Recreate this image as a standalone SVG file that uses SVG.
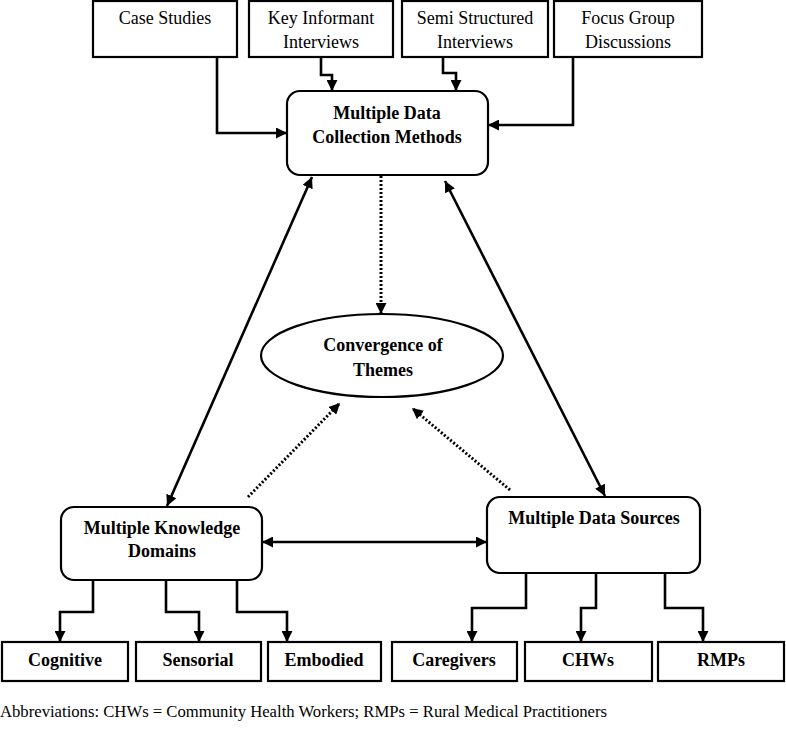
<svg xmlns="http://www.w3.org/2000/svg" width="786" height="747" viewBox="0 0 786 747">
<style>
.box{fill:#fff;stroke:#000;stroke-width:2.2}
.t{font-family:"Liberation Serif","Times New Roman",serif;font-size:18px;fill:#000;text-anchor:middle}
.b{font-weight:bold}
.ln{fill:none;stroke:#000;stroke-width:2.6}
.dot{fill:none;stroke:#000;stroke-width:3;stroke-dasharray:2 2}
</style>
<defs>
<marker id="ah" viewBox="0 0 10 10" refX="10" refY="5" markerWidth="11" markerHeight="11" markerUnits="userSpaceOnUse" orient="auto-start-reverse">
<path d="M0,0 L10,5 L0,10 z" fill="#000"/>
</marker>
</defs>
<rect width="786" height="747" fill="#fff"/>
<g id="connectors">
<polyline class="ln" points="217,57 217,133 287,133" marker-end="url(#ah)"/>
<polyline class="ln" points="321,57 321,75 332,75 332,91" marker-end="url(#ah)"/>
<polyline class="ln" points="443,57 443,73 456,73 456,91" marker-end="url(#ah)"/>
<polyline class="ln" points="573,57 573,125 488,125" marker-end="url(#ah)"/>
<line class="dot" x1="381" y1="176" x2="381" y2="314" marker-end="url(#ah)"/>
<line class="ln" x1="312" y1="177" x2="167" y2="506" marker-start="url(#ah)" marker-end="url(#ah)"/>
<line class="ln" x1="445" y1="181" x2="605" y2="496" marker-start="url(#ah)" marker-end="url(#ah)"/>
<line class="ln" x1="262" y1="542" x2="487" y2="542" marker-start="url(#ah)" marker-end="url(#ah)"/>
<line class="dot" x1="248" y1="497" x2="340" y2="403" marker-end="url(#ah)"/>
<line class="dot" x1="510" y1="490" x2="412" y2="408" marker-end="url(#ah)"/>
<polyline class="ln" points="93,580 93,612 60,612 60,642" marker-end="url(#ah)"/>
<polyline class="ln" points="166,580 166,612 199,612 199,642" marker-end="url(#ah)"/>
<polyline class="ln" points="237,580 237,612 287,612 287,642" marker-end="url(#ah)"/>
<polyline class="ln" points="526,573 526,608 472,608 472,642" marker-end="url(#ah)"/>
<polyline class="ln" points="596,573 596,608 581,608 581,642" marker-end="url(#ah)"/>
<polyline class="ln" points="665,573 665,608 703,608 703,642" marker-end="url(#ah)"/>
</g>
<g id="case-studies"><rect class="box" x="93" y="1" width="144" height="56"/><text class="t" x="165" y="24">Case Studies</text></g>
<g id="key-informant"><rect class="box" x="249" y="1" width="144" height="56"/><text class="t" x="321" y="24">Key Informant</text><text class="t" x="321" y="48">Interviews</text></g>
<g id="semi-structured"><rect class="box" x="402" y="1" width="146" height="56"/><text class="t" x="475" y="24">Semi Structured</text><text class="t" x="475" y="48">Interviews</text></g>
<g id="focus-group"><rect class="box" x="554" y="1" width="148" height="56"/><text class="t" x="628" y="24">Focus Group</text><text class="t" x="628" y="48">Discussions</text></g>
<g id="methods"><rect class="box" x="287" y="91" width="201" height="84" rx="13"/><text class="t b" x="387" y="119">Multiple Data</text><text class="t b" x="387" y="143">Collection Methods</text></g>
<g id="convergence"><ellipse class="box" cx="382" cy="355.5" rx="121" ry="41.5"/><text class="t b" x="383" y="351">Convergence of</text><text class="t b" x="383" y="376">Themes</text></g>
<g id="knowledge"><rect class="box" x="61" y="507" width="201" height="73" rx="13"/><text class="t b" x="162" y="534">Multiple Knowledge</text><text class="t b" x="162" y="557">Domains</text></g>
<g id="sources"><rect class="box" x="487" y="497" width="213" height="76" rx="13"/><text class="t b" x="594" y="524">Multiple Data Sources</text></g>
<g id="cognitive"><rect class="box" x="2" y="642" width="126" height="39"/><text class="t b" x="65" y="666">Cognitive</text></g>
<g id="sensorial"><rect class="box" x="136" y="642" width="125" height="39"/><text class="t b" x="198" y="666">Sensorial</text></g>
<g id="embodied"><rect class="box" x="268" y="642" width="113" height="39"/><text class="t b" x="324" y="666">Embodied</text></g>
<g id="caregivers"><rect class="box" x="392" y="642" width="125" height="39"/><text class="t b" x="454" y="666">Caregivers</text></g>
<g id="chws"><rect class="box" x="525" y="642" width="127" height="39"/><text class="t b" x="588" y="666">CHWs</text></g>
<g id="rmps"><rect class="box" x="658" y="642" width="126" height="39"/><text class="t b" x="721" y="666">RMPs</text></g>
<text x="0" y="717" font-family="Liberation Serif, Times New Roman, serif" font-size="16" textLength="607" lengthAdjust="spacingAndGlyphs">Abbreviations: CHWs = Community Health Workers; RMPs = Rural Medical Practitioners</text>
</svg>
